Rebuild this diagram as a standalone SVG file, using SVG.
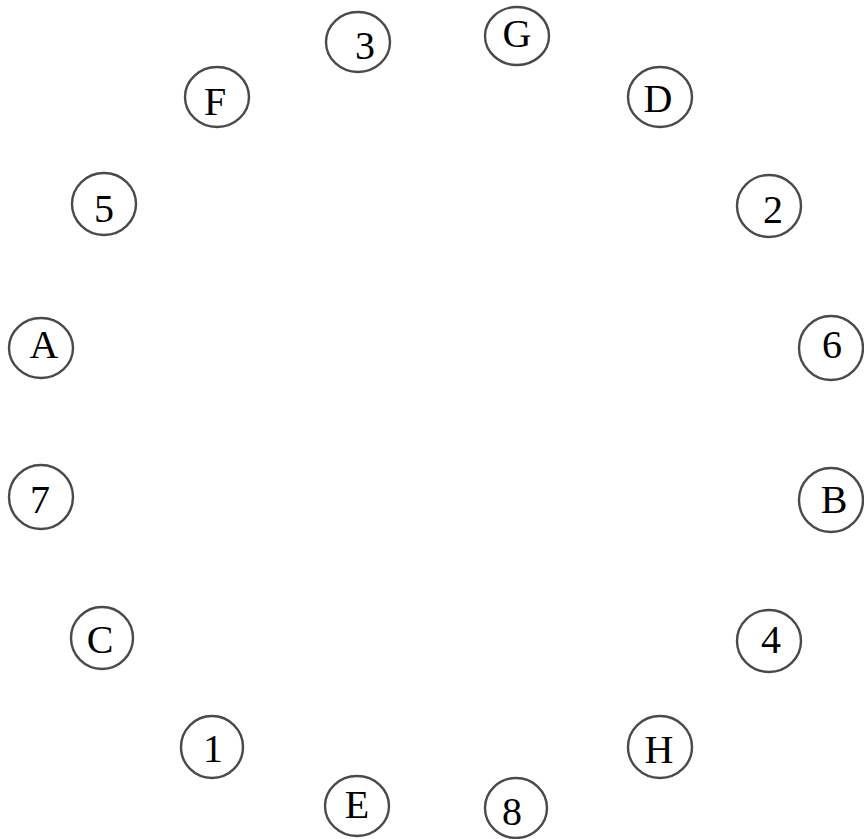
<svg xmlns="http://www.w3.org/2000/svg" width="864" height="839" viewBox="0 0 864 839">
<style>
.n ellipse{fill:#fff;stroke:#4a4a4a;stroke-width:2.4}
.n text{font-family:"Liberation Serif","Times New Roman",serif;font-size:40px;fill:#000;text-anchor:middle}
</style>
<rect width="864" height="839" fill="#fff"/>
<g id="connectors"></g>
<g id="node-3" class="n"><ellipse cx="358" cy="42" rx="32" ry="30"/><text x="365" y="59">3</text></g>
<g id="node-G" class="n"><ellipse cx="517" cy="36" rx="32" ry="29"/><text x="517" y="47">G</text></g>
<g id="node-F" class="n"><ellipse cx="217" cy="97" rx="32" ry="30"/><text x="215" y="115">F</text></g>
<g id="node-D" class="n"><ellipse cx="660" cy="97" rx="32" ry="30"/><text x="658" y="112">D</text></g>
<g id="node-5" class="n"><ellipse cx="104" cy="204" rx="32" ry="31"/><text x="104" y="222">5</text></g>
<g id="node-2" class="n"><ellipse cx="769" cy="206" rx="32" ry="31"/><text x="773" y="223">2</text></g>
<g id="node-A" class="n"><ellipse cx="41" cy="348" rx="32" ry="30"/><text x="44" y="358">A</text></g>
<g id="node-6" class="n"><ellipse cx="831" cy="348" rx="32" ry="32"/><text x="832" y="358">6</text></g>
<g id="node-7" class="n"><ellipse cx="41" cy="497" rx="32" ry="32"/><text x="40" y="513">7</text></g>
<g id="node-B" class="n"><ellipse cx="831" cy="500" rx="32" ry="32"/><text x="834" y="513">B</text></g>
<g id="node-C" class="n"><ellipse cx="102" cy="638" rx="31" ry="31"/><text x="100" y="653">C</text></g>
<g id="node-4" class="n"><ellipse cx="769" cy="641" rx="32" ry="31"/><text x="771" y="653">4</text></g>
<g id="node-1" class="n"><ellipse cx="212" cy="747" rx="31" ry="31"/><text x="213" y="762">1</text></g>
<g id="node-H" class="n"><ellipse cx="660" cy="747" rx="32" ry="31"/><text x="659" y="763">H</text></g>
<g id="node-E" class="n"><ellipse cx="357" cy="806" rx="32" ry="30"/><text x="357" y="818">E</text></g>
<g id="node-8" class="n"><ellipse cx="516" cy="808" rx="31" ry="30"/><text x="512" y="825">8</text></g>
</svg>
